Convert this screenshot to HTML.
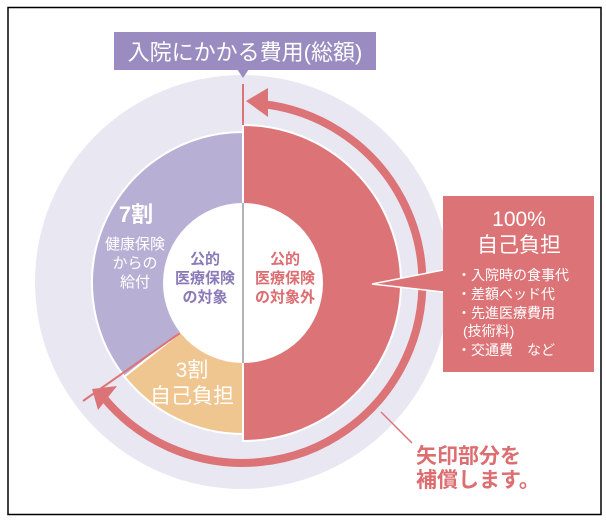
<!DOCTYPE html>
<html><head><meta charset="utf-8"><style>
html,body{margin:0;padding:0;background:#fff}
svg{display:block}
text{font-family:"Liberation Sans","Noto Sans CJK JP",sans-serif}
</style></head><body>
<svg width="606" height="521" viewBox="0 0 606 521" xmlns="http://www.w3.org/2000/svg">
<rect x="8" y="7.5" width="593" height="507" fill="#fff" stroke="#000" stroke-width="1.5"/>
<circle cx="242" cy="282" r="207" fill="#e9e7f2"/>
<path d="M243,283 L243,132 A151,151 0 0 0 124.5,376.6 Z" fill="#b8b0d4" stroke="#fff" stroke-width="2"/>
<path d="M243,283 L124.5,376.6 A151,151 0 0 0 243,434 Z" fill="#f0c690" stroke="#fff" stroke-width="2"/>
<path d="M243,125 A158,158 0 0 1 243,441 Z" fill="#dc7477" stroke="#fff" stroke-width="2"/>
<circle cx="243" cy="283" r="80" fill="#fff"/>
<line x1="243" y1="203" x2="243" y2="363" stroke="#9a9aa8" stroke-width="1.5"/>
<line x1="243" y1="84" x2="243" y2="125" stroke="#dc7477" stroke-width="2"/>
<line x1="180" y1="333" x2="83" y2="401" stroke="#dc7477" stroke-width="2"/>
<path d="M262,104 A180,180 0 1 1 104,398" fill="none" stroke="#dc7477" stroke-width="8"/>
<polygon points="246,101 268,88 268,117" fill="#dc7477"/>
<polygon points="92,389 117,386 98,410" fill="#dc7477"/>
<rect x="114" y="32" width="262" height="38" fill="#9a8cc0"/>
<polygon points="237,69 249,69 243,78" fill="#9a8cc0"/>
<text x="245" y="60" font-size="22" fill="#fff" text-anchor="middle">入院にかかる費用(総額)</text>
<text x="136" y="222" font-size="22" font-weight="bold" fill="#fff" text-anchor="middle">7割</text>
<text x="135" y="249" font-size="15" fill="#fff" text-anchor="middle">健康保険</text>
<text x="135" y="268" font-size="15" fill="#fff" text-anchor="middle">からの</text>
<text x="135" y="287" font-size="15" fill="#fff" text-anchor="middle">給付</text>
<text x="205" y="264" font-size="15" font-weight="bold" fill="#8a7ab8" text-anchor="middle">公的</text>
<text x="205" y="283" font-size="15" font-weight="bold" fill="#8a7ab8" text-anchor="middle">医療保険</text>
<text x="205" y="302" font-size="15" font-weight="bold" fill="#8a7ab8" text-anchor="middle">の対象</text>
<text x="285" y="264" font-size="15" font-weight="bold" fill="#dc6d70" text-anchor="middle">公的</text>
<text x="285" y="283" font-size="15" font-weight="bold" fill="#dc6d70" text-anchor="middle">医療保険</text>
<text x="285" y="302" font-size="15" font-weight="bold" fill="#dc6d70" text-anchor="middle">の対象外</text>
<text x="192" y="377" font-size="21" fill="#fff" text-anchor="middle">3割</text>
<text x="192" y="403" font-size="21" fill="#fff" text-anchor="middle">自己負担</text>
<polygon points="443,270 372,284 443,292" fill="#dc7477" stroke="#fff" stroke-width="1.5"/>
<rect x="443" y="196" width="151" height="176" fill="#dc7477"/>
<line x1="443" y1="271" x2="443" y2="291" stroke="#dc7477" stroke-width="3"/>
<text x="519" y="226" font-size="21" fill="#fff" text-anchor="middle">100%</text>
<text x="519" y="252" font-size="21" fill="#fff" text-anchor="middle">自己負担</text>
<text x="457" y="280" font-size="14" fill="#fff">・入院時の食事代</text>
<text x="457" y="299" font-size="14" fill="#fff">・差額ベッド代</text>
<text x="457" y="318" font-size="14" fill="#fff">・先進医療費用</text>
<text x="463" y="336" font-size="14" fill="#fff">(技術料)</text>
<text x="457" y="355" font-size="14" fill="#fff">・交通費　など</text>
<line x1="381" y1="412" x2="412" y2="443" stroke="#dc7477" stroke-width="1.5"/>
<text x="416" y="463" font-size="21" font-weight="bold" fill="#dc6d70">矢印部分を</text>
<text x="416" y="487" font-size="21" font-weight="bold" fill="#dc6d70">補償します。</text>
</svg>
</body></html>
